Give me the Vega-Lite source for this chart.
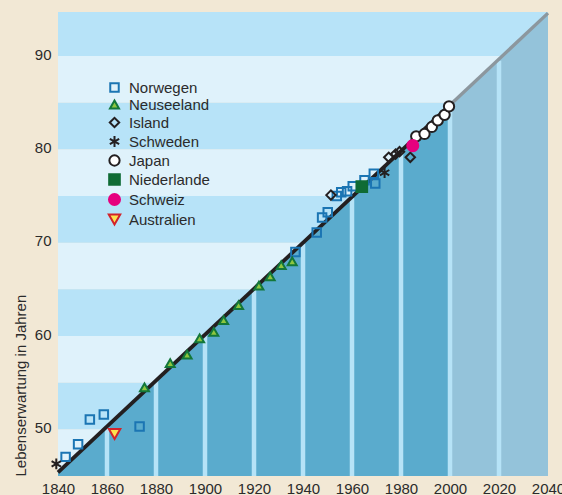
{
  "$schema": "https://vega.github.io/schema/vega-lite/v6.json",
  "width": 490,
  "height": 464,
  "autosize": {"type": "none"},
  "padding": {"left": 58, "top": 12, "right": 14, "bottom": 19},
  "background": "#f2e8d5",
  "config": {
    "view": {"stroke": null},
    "font": "Liberation Sans",
    "axis": {"domain": false, "ticks": false, "grid": false, "labelColor": "#2b2b2b", "labelFontSize": 15, "labelFont": "Liberation Sans", "titleFont": "Liberation Sans", "titleFontWeight": "normal", "titleColor": "#2b2b2b", "titleFontSize": 15}
  },
  "datasets": {
    "bands_hell": [
      {"von": 45, "bis": 50},
      {"von": 55, "bis": 60},
      {"von": 65, "bis": 70},
      {"von": 75, "bis": 80},
      {"von": 85, "bis": 90}
    ],
    "bands_dunkel": [
      {"von": 50, "bis": 55},
      {"von": 60, "bis": 65},
      {"von": 70, "bis": 75},
      {"von": 80, "bis": 85},
      {"von": 90, "bis": 94.72}
    ],
    "trend_a": [
      {"jahr": 1840, "wert": 45.4},
      {"jahr": 2000, "wert": 84.75}
    ],
    "trend_b": [
      {"jahr": 2000, "wert": 84.75},
      {"jahr": 2040, "wert": 94.6}
    ],
    "trenner": [
      {"jahr": 1860, "oben": 50.3},
      {"jahr": 1880, "oben": 55.2},
      {"jahr": 1900, "oben": 60.1},
      {"jahr": 1920, "oben": 65.0},
      {"jahr": 1940, "oben": 69.9},
      {"jahr": 1960, "oben": 74.8},
      {"jahr": 1980, "oben": 79.7},
      {"jahr": 2000, "oben": 84.6},
      {"jahr": 2020, "oben": 89.5}
    ],
    "punkte": [
      {"land": "Norwegen", "jahr": 1843.1, "wert": 47.05},
      {"land": "Norwegen", "jahr": 1848.2, "wert": 48.4},
      {"land": "Norwegen", "jahr": 1853.0, "wert": 51.05},
      {"land": "Norwegen", "jahr": 1858.7, "wert": 51.6},
      {"land": "Norwegen", "jahr": 1873.3, "wert": 50.3},
      {"land": "Norwegen", "jahr": 1936.9, "wert": 69.0},
      {"land": "Norwegen", "jahr": 1945.6, "wert": 71.1},
      {"land": "Norwegen", "jahr": 1947.8, "wert": 72.7},
      {"land": "Norwegen", "jahr": 1950.1, "wert": 73.25},
      {"land": "Norwegen", "jahr": 1953.8, "wert": 75.0},
      {"land": "Norwegen", "jahr": 1955.6, "wert": 75.4},
      {"land": "Norwegen", "jahr": 1958.0, "wert": 75.5},
      {"land": "Norwegen", "jahr": 1960.3, "wert": 76.05},
      {"land": "Norwegen", "jahr": 1965.1, "wert": 76.7},
      {"land": "Norwegen", "jahr": 1968.9, "wert": 77.4},
      {"land": "Norwegen", "jahr": 1969.5, "wert": 76.35},
      {"land": "Neuseeland", "jahr": 1875.3, "wert": 54.5},
      {"land": "Neuseeland", "jahr": 1885.8, "wert": 57.1},
      {"land": "Neuseeland", "jahr": 1892.7, "wert": 58.0},
      {"land": "Neuseeland", "jahr": 1897.8, "wert": 59.75},
      {"land": "Neuseeland", "jahr": 1903.6, "wert": 60.45},
      {"land": "Neuseeland", "jahr": 1907.6, "wert": 61.7},
      {"land": "Neuseeland", "jahr": 1913.7, "wert": 63.3},
      {"land": "Neuseeland", "jahr": 1922.0, "wert": 65.4},
      {"land": "Neuseeland", "jahr": 1926.6, "wert": 66.4},
      {"land": "Neuseeland", "jahr": 1931.1, "wert": 67.6},
      {"land": "Neuseeland", "jahr": 1935.6, "wert": 68.0},
      {"land": "Island", "jahr": 1951.4, "wert": 75.1},
      {"land": "Island", "jahr": 1975.0, "wert": 79.15},
      {"land": "Island", "jahr": 1977.8, "wert": 79.5},
      {"land": "Island", "jahr": 1979.4, "wert": 79.75},
      {"land": "Island", "jahr": 1983.8, "wert": 79.15},
      {"land": "Schweden", "jahr": 1839.3, "wert": 46.3},
      {"land": "Schweden", "jahr": 1973.3, "wert": 77.5},
      {"land": "Japan", "jahr": 1986.2, "wert": 81.4},
      {"land": "Japan", "jahr": 1989.6, "wert": 81.65},
      {"land": "Japan", "jahr": 1992.6, "wert": 82.4},
      {"land": "Japan", "jahr": 1995.0, "wert": 83.1},
      {"land": "Japan", "jahr": 1997.8, "wert": 83.7},
      {"land": "Japan", "jahr": 1999.6, "wert": 84.6},
      {"land": "Niederlande", "jahr": 1964.0, "wert": 76.0},
      {"land": "Schweiz", "jahr": 1984.8, "wert": 80.4},
      {"land": "Australien", "jahr": 1863.1, "wert": 49.5}
    ]
  },
  "layer": [
    {
      "data": {"name": "bands_hell"},
      "mark": {"type": "rect", "color": "#dff2fb"},
      "encoding": {
        "y": {"field": "von", "type": "quantitative", "scale": {"domain": [45, 94.72], "nice": false, "zero": false},
          "axis": {"values": [50, 60, 70, 80, 90], "labelPadding": 7, "labelOffset": -2, "title": "Lebenserwartung in Jahren", "titleAnchor": "start", "titlePadding": 6}},
        "y2": {"field": "bis"}
      }
    },
    {
      "data": {"name": "bands_dunkel"},
      "mark": {"type": "rect", "color": "#b7e3f8"},
      "encoding": {
        "y": {"field": "von", "type": "quantitative"},
        "y2": {"field": "bis"}
      }
    },
    {
      "data": {"name": "trend_a"},
      "mark": {"type": "area", "color": "#5aabcd"},
      "encoding": {
        "x": {"field": "jahr", "type": "quantitative", "scale": {"domain": [1840, 2040], "nice": false, "zero": false},
          "axis": {"values": [1840, 1860, 1880, 1900, 1920, 1940, 1960, 1980, 2000, 2020, 2040], "format": "d", "labelPadding": 5, "labelOverlap": false, "labelFlush": false, "labelBound": false, "title": null}},
        "y": {"field": "wert", "type": "quantitative"},
        "y2": {"datum": 45}
      }
    },
    {
      "data": {"name": "trend_b"},
      "mark": {"type": "area", "color": "#94c3da"},
      "encoding": {
        "x": {"field": "jahr", "type": "quantitative"},
        "y": {"field": "wert", "type": "quantitative"},
        "y2": {"datum": 45}
      }
    },
    {
      "data": {"name": "trenner"},
      "mark": {"type": "rule", "color": "#b6e3f7", "strokeWidth": 4.5},
      "encoding": {
        "x": {"field": "jahr", "type": "quantitative"},
        "y": {"field": "oben", "type": "quantitative"},
        "y2": {"datum": 45}
      }
    },
    {
      "data": {"name": "trend_b"},
      "mark": {"type": "line", "color": "#8c979e", "strokeWidth": 3.4},
      "encoding": {
        "x": {"field": "jahr", "type": "quantitative"},
        "y": {"field": "wert", "type": "quantitative"}
      }
    },
    {
      "data": {"name": "trend_a"},
      "mark": {"type": "line", "color": "#231f20", "strokeWidth": 3.8},
      "encoding": {
        "x": {"field": "jahr", "type": "quantitative"},
        "y": {"field": "wert", "type": "quantitative"}
      }
    },
    {
      "data": {"name": "punkte"},
      "mark": {"type": "point", "strokeWidth": 2, "opacity": 1, "clip": false},
      "encoding": {
        "x": {"field": "jahr", "type": "quantitative"},
        "y": {"field": "wert", "type": "quantitative"},
        "shape": {"field": "land", "type": "nominal",
          "scale": {"domain": ["Norwegen", "Neuseeland", "Island", "Schweden", "Japan", "Niederlande", "Schweiz", "Australien"],
            "range": ["square", "triangle-up", "diamond", "M0,-1.1L0,1.1M-0.95,-0.55L0.95,0.55M-0.95,0.55L0.95,-0.55", "circle", "square", "circle", "triangle-down"]},
          "legend": {"title": null, "orient": "none", "legendX": 49, "legendY": 68, "padding": 0, "rowPadding": 0, "labelFontSize": 15, "labelColor": "#2b2b2b", "labelFont": "Liberation Sans", "symbolStrokeWidth": 2, "labelOffset": 7, "symbolOpacity": 1}},
        "size": {"field": "land", "type": "nominal",
          "scale": {"domain": ["Norwegen", "Neuseeland", "Island", "Schweden", "Japan", "Niederlande", "Schweiz", "Australien"],
            "range": [72, 130, 85, 90, 85, 110, 125, 130]},
          "legend": {"title": null, "orient": "none", "legendX": 49, "legendY": 68}},
        "stroke": {"field": "land", "type": "nominal",
          "scale": {"domain": ["Norwegen", "Neuseeland", "Island", "Schweden", "Japan", "Niederlande", "Schweiz", "Australien"],
            "range": ["#1b75b3", "#13773a", "#231f20", "#231f20", "#231f20", "#0f6b34", "#e6007e", "#d2232a"]},
          "legend": {"title": null, "orient": "none", "legendX": 49, "legendY": 68}},
        "fill": {"field": "land", "type": "nominal",
          "scale": {"domain": ["Norwegen", "Neuseeland", "Island", "Schweden", "Japan", "Niederlande", "Schweiz", "Australien"],
            "range": ["transparent", "#8dc63f", "transparent", "transparent", "#ffffff", "#0f6b34", "#e6007e", "#fde24f"]},
          "legend": {"title": null, "orient": "none", "legendX": 49, "legendY": 68}}
      }
    }
  ]
}
